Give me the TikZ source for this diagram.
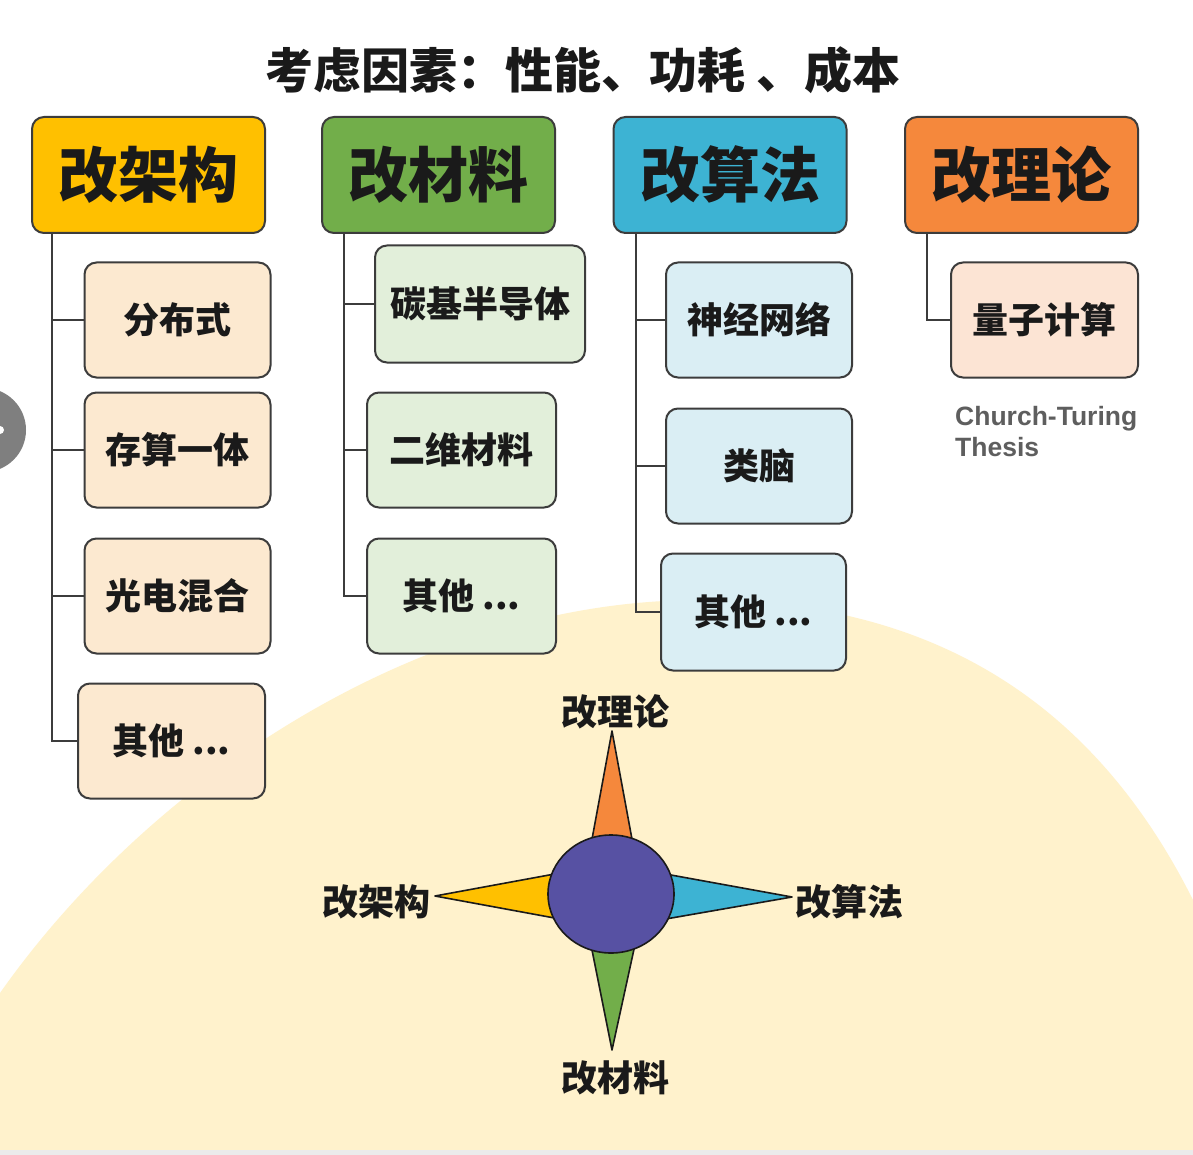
\documentclass[tikz,border=0pt]{standalone}
\usepackage{fontspec}
\usetikzlibrary{shapes.geometric}
\newfontfamily\cjk{Noto Sans CJK SC}
\newfontfamily\lsans{Liberation Sans}
\definecolor{bgY}{HTML}{FFF2CC}
\definecolor{bordc}{HTML}{3C3C3C}
\definecolor{txtc}{HTML}{1A1A1A}
\definecolor{hY}{HTML}{FFC000}
\definecolor{hG}{HTML}{72AE4A}
\definecolor{hB}{HTML}{3DB3D3}
\definecolor{hO}{HTML}{F5883C}
\definecolor{kY}{HTML}{FCE9D0}
\definecolor{kG}{HTML}{E2EFDA}
\definecolor{kB}{HTML}{DAEEF4}
\definecolor{kO}{HTML}{FCE4D4}
\definecolor{hubc}{HTML}{5751A3}
\definecolor{ctc}{HTML}{5E5E5E}
\definecolor{btnc}{HTML}{7F7F7F}
\definecolor{stripc}{HTML}{EBEBEB}
\tikzset{
  box/.style={draw=bordc, line width=2pt, rounded corners=12pt, inner sep=0pt,
    align=center, text=txtc, font=\cjk\bfseries\fontsize{36}{36}\selectfont},
  hdr/.style={box, minimum width=233pt, minimum height=116pt,
    font=\cjk\bfseries\fontsize{60}{60}\selectfont},
  kid/.style={box, minimum width=186pt, minimum height=115pt},
  tree/.style={draw=bordc, line width=2pt},
  spike/.style={draw=txtc, line width=1.6pt, line join=round},
  clab/.style={inner sep=0pt, text=txtc, font=\cjk\bfseries\fontsize{36}{36}\selectfont},
  ctext/.style={inner sep=0pt, text=ctc, font=\lsans\bfseries\fontsize{26.5}{30}\selectfont}
}
\begin{document}
\begin{tikzpicture}[x=1pt, y=-1pt]
\useasboundingbox (0,0) rectangle (1193,1155);
\begin{scope}
  \clip (0,0) rectangle (1193,1155);
  \fill[white] (0,0) rectangle (1193,1155);
  \fill[bgY] (-12,1010) -- (0,993)
    .. controls (150,780) and (420,600) .. (700,600)
    .. controls (930,600) and (1093,700) .. (1193,900)
    -- (1210,934) -- (1210,1165) -- (-12,1165) -- cycle;
  \fill[stripc] (0,1150) rectangle (1193,1155);
  \fill[btnc] (-16,430) circle (42);
  \fill[white] (0,430) circle (4);
\end{scope}

% title
\node[inner sep=0pt, text=txtc, font=\cjk\bfseries\fontsize{48}{48}\selectfont] (title) at (583,70) {考虑因素：性能、功耗 、成本};

% headers
\node[hdr, fill=hY] (h1) at (148.5,175) {改架构};
\node[hdr, fill=hG] (h2) at (438.5,175) {改材料};
\node[hdr, fill=hB] (h3) at (730,175) {改算法};
\node[hdr, fill=hO] (h4) at (1021.5,175) {改理论};

% column 1
\node[kid, fill=kY] (c11) at (177.5,320) {分布式};
\node[kid, fill=kY] (c12) at (177.5,450) {存算一体};
\node[kid, fill=kY] (c13) at (177.5,596) {光电混合};
\node[kid, fill=kY, minimum width=187pt] (c14) at (171.5,741) {其他 ...};

% column 2
\node[kid, fill=kG, minimum width=210pt, minimum height=117pt] (c21) at (480,304) {碳基半导体};
\node[kid, fill=kG, minimum width=189pt] (c22) at (461.5,450) {二维材料};
\node[kid, fill=kG, minimum width=189pt] (c23) at (461.5,596) {其他 ...};

% column 3
\node[kid, fill=kB] (c31) at (759,320) {神经网络};
\node[kid, fill=kB] (c32) at (759,466) {类脑};
\node[kid, fill=kB, minimum width=185pt, minimum height=117pt] (c33) at (753.5,612) {其他 ...};

% column 4
\node[kid, fill=kO, minimum width=187pt] (c41) at (1044.5,320) {量子计算};
\node[ctext, anchor=base west] (ct1) at (955,425) {Church-Turing};
\node[ctext, anchor=base west] (ct2) at (955,456) {Thesis};

% tree connectors
\path (h1.south west) ++(21,0) coordinate (t1);
\path (h2.south west) ++(23,0) coordinate (t2);
\path (h3.south west) ++(23,0) coordinate (t3);
\path (h4.south west) ++(23,0) coordinate (t4);
\draw[tree] (t1) |- (c14.west);
\foreach \k in {c11,c12,c13} \draw[tree] (t1 |- \k.west) -- (\k.west);
\draw[tree] (t2) |- (c23.west);
\foreach \k in {c21,c22} \draw[tree] (t2 |- \k.west) -- (\k.west);
\draw[tree] (t3) |- (c33.west);
\foreach \k in {c31,c32} \draw[tree] (t3 |- \k.west) -- (\k.west);
\draw[tree] (t4) |- (c41.west);

% compass
\draw[spike, fill=hO] (590,850) -- (612,731) -- (634,850) -- cycle;
\draw[spike, fill=hB] (660,873) -- (792,897) -- (660,920) -- cycle;
\draw[spike, fill=hG] (590,940) -- (612,1050) -- (636,940) -- cycle;
\draw[spike, fill=hY] (560,873) -- (435,896) -- (560,919) -- cycle;
\node[ellipse, draw=txtc, line width=1.6pt, fill=hubc, minimum width=126pt, minimum height=118pt, inner sep=0pt] (hub) at (611,894) {};

\node[clab] (lt) at (615,712) {改理论};
\node[clab] (ll) at (376,902) {改架构};
\node[clab] (lr) at (849,902) {改算法};
\node[clab] (lb) at (615,1078) {改材料};
\end{tikzpicture}
\end{document}
